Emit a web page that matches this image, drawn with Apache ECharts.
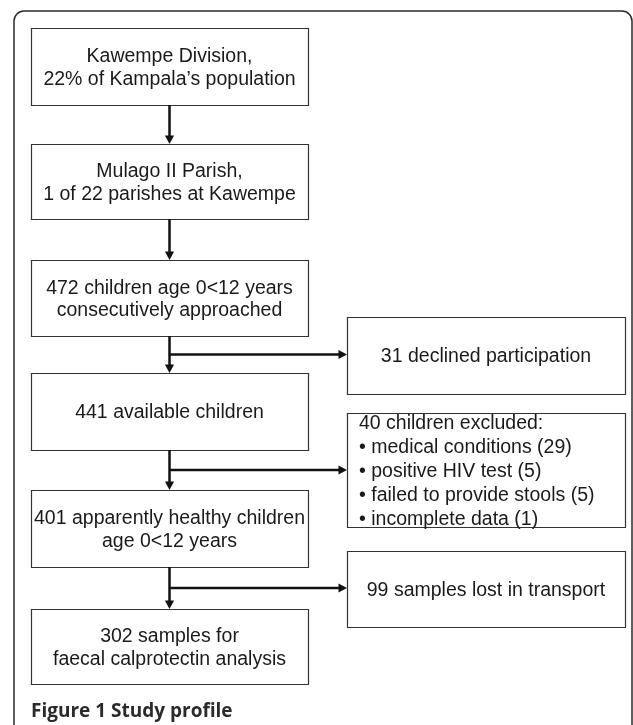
<!DOCTYPE html>
<html>
  <head>
    <meta charset="utf-8" />
    <title>Study profile</title>
    <script src="https://cdn.jsdelivr.net/npm/echarts@6/dist/echarts.min.js"></script>
    <style>
      html, body { margin: 0; padding: 0; background: #fff; }
    </style>
  </head>

  <body>
    <div id="main" style="width: 633px; height: 725px;"></div>
    <script type="text/javascript">
      // flow boxes, main column (top to bottom)
      const mainLabels = [
        "Kawempe Division,\n22% of Kampala\u2019s population",
        "Mulago II Parish,\n1 of 22 parishes at Kawempe",
        "472 children age 0<12 years\nconsecutively approached",
        "441 available children",
        "401 apparently healthy children\nage 0<12 years",
        "302 samples for\nfaecal calprotectin analysis",
      ];
      const mainTop = [28, 144, 260, 373, 490, 609];
      const mainBottom = [105, 219, 336, 450, 567, 684];

      // side boxes (exclusions), each hangs off the gap below main box 2,3,4
      const sideLabels = [
        "31 declined participation",
        "40 children excluded:\n\u2022 medical conditions (29)\n\u2022 positive HIV test (5)\n\u2022 failed to provide stools (5)\n\u2022 incomplete data (1)",
        "99 samples lost in transport",
      ];
      const sideTop = [317, 413, 551];
      const sideBottom = [394, 527, 627];
      const sideFromGap = [2, 3, 4];

      const mainCol = [31, 308];
      const sideCol = [347, 625];
      const midX = (mainCol[0] + mainCol[1]) / 2;

      const mainData = mainTop.map((t, i) => [mainCol[0], t, mainCol[1], mainBottom[i]]);
      const sideData = sideTop.map((t, i) => [sideCol[0], t, sideCol[1], sideBottom[i]]);

      // connectors
      const arrows = [];
      for (let i = 0; i < mainTop.length - 1; i++) {
        arrows.push([midX, mainBottom[i], midX, mainTop[i + 1]]);
      }
      sideFromGap.forEach(g => {
        const y = (mainBottom[g] + mainTop[g + 1]) / 2;
        arrows.push([midX, y, sideCol[0], y]);
      });

      const FONT = '"Liberation Sans", Arial, sans-serif';

      function renderBox(labels) {
        return function(params, api) {
          const p0 = api.coord([api.value(0), api.value(1)]);
          const p1 = api.coord([api.value(2), api.value(3)]);
          const w = p1[0] - p0[0];
          const h = p1[1] - p0[1];
          const text = labels[params.dataIndex];
          // the exclusions list is left aligned, everything else centred
          const leftAlign = text.indexOf("\u2022") >= 0;
          return {
            type: "group",
            children: [
              {
                type: "rect",
                shape: { x: p0[0] + 0.5, y: p0[1] + 0.5, width: w, height: h },
                style: { fill: "#fff", stroke: "#333", lineWidth: 1.2 },
              },
              {
                type: "text",
                style: leftAlign
                  ? {
                      text: text,
                      x: p0[0] + 12,
                      y: p0[1] - 1,
                      align: "left",
                      verticalAlign: "top",
                      fontSize: 19.5,
                      fontFamily: FONT,
                      lineHeight: 24,
                      fill: "#1a1a1a",
                    }
                  : {
                      text: text,
                      x: p0[0] + w / 2,
                      y: p0[1] + h / 2 + 1.5,
                      align: "center",
                      verticalAlign: "middle",
                      fontSize: 19.5,
                      fontFamily: FONT,
                      lineHeight: 22.5,
                      fill: "#1a1a1a",
                    },
              },
            ],
          };
        };
      }

      function renderArrow(params, api) {
        const a = api.coord([api.value(0), api.value(1)]);
        const b = api.coord([api.value(2), api.value(3)]);
        const dx = b[0] - a[0];
        const dy = b[1] - a[1];
        const len = Math.sqrt(dx * dx + dy * dy);
        const ux = dx / len, uy = dy / len;
        const hl = 8.5, hw = 4.6;
        const base = [b[0] - ux * hl, b[1] - uy * hl];
        return {
          type: "group",
          children: [
            {
              type: "line",
              shape: { x1: a[0], y1: a[1], x2: base[0] + ux, y2: base[1] + uy },
              style: { stroke: "#111", lineWidth: 2.5 },
            },
            {
              type: "polygon",
              shape: {
                points: [
                  [b[0], b[1]],
                  [base[0] - uy * hw, base[1] + ux * hw],
                  [base[0] + uy * hw, base[1] - ux * hw],
                ],
              },
              style: { fill: "#111" },
            },
          ],
        };
      }

      const myChart = echarts.init(document.getElementById("main"));
      const option = {
        animation: false,
        backgroundColor: "#fff",
        title: {
          text: "Figure 1 Study profile",
          left: 31,
          top: 702,
          padding: 0,
          textStyle: {
            fontFamily: '"Open Sans", sans-serif',
            fontWeight: 700,
            fontSize: 19,
            color: "#2b2b2b",
          },
        },
        graphic: [
          {
            type: "rect",
            shape: { x: 14, y: 11, width: 618, height: 800, r: 10 },
            style: { fill: "none", stroke: "#2b2b2b", lineWidth: 1.5 },
            z: -1,
          },
        ],
        grid: { left: 0, right: 0, top: 0, bottom: 0 },
        xAxis: { type: "value", min: 0, max: 633, show: false },
        yAxis: { type: "value", min: 0, max: 725, inverse: true, show: false },
        series: [
          {
            type: "custom",
            name: "arrows",
            renderItem: renderArrow,
            encode: { x: [0, 2], y: [1, 3] },
            data: arrows,
            z: 3,
          },
          {
            type: "custom",
            name: "main",
            renderItem: renderBox(mainLabels),
            encode: { x: [0, 2], y: [1, 3] },
            data: mainData,
            z: 2,
          },
          {
            type: "custom",
            name: "side",
            renderItem: renderBox(sideLabels),
            encode: { x: [0, 2], y: [1, 3] },
            data: sideData,
            z: 2,
          },
        ],
      };
      myChart.setOption(option);
    </script>
  </body>
</html>
